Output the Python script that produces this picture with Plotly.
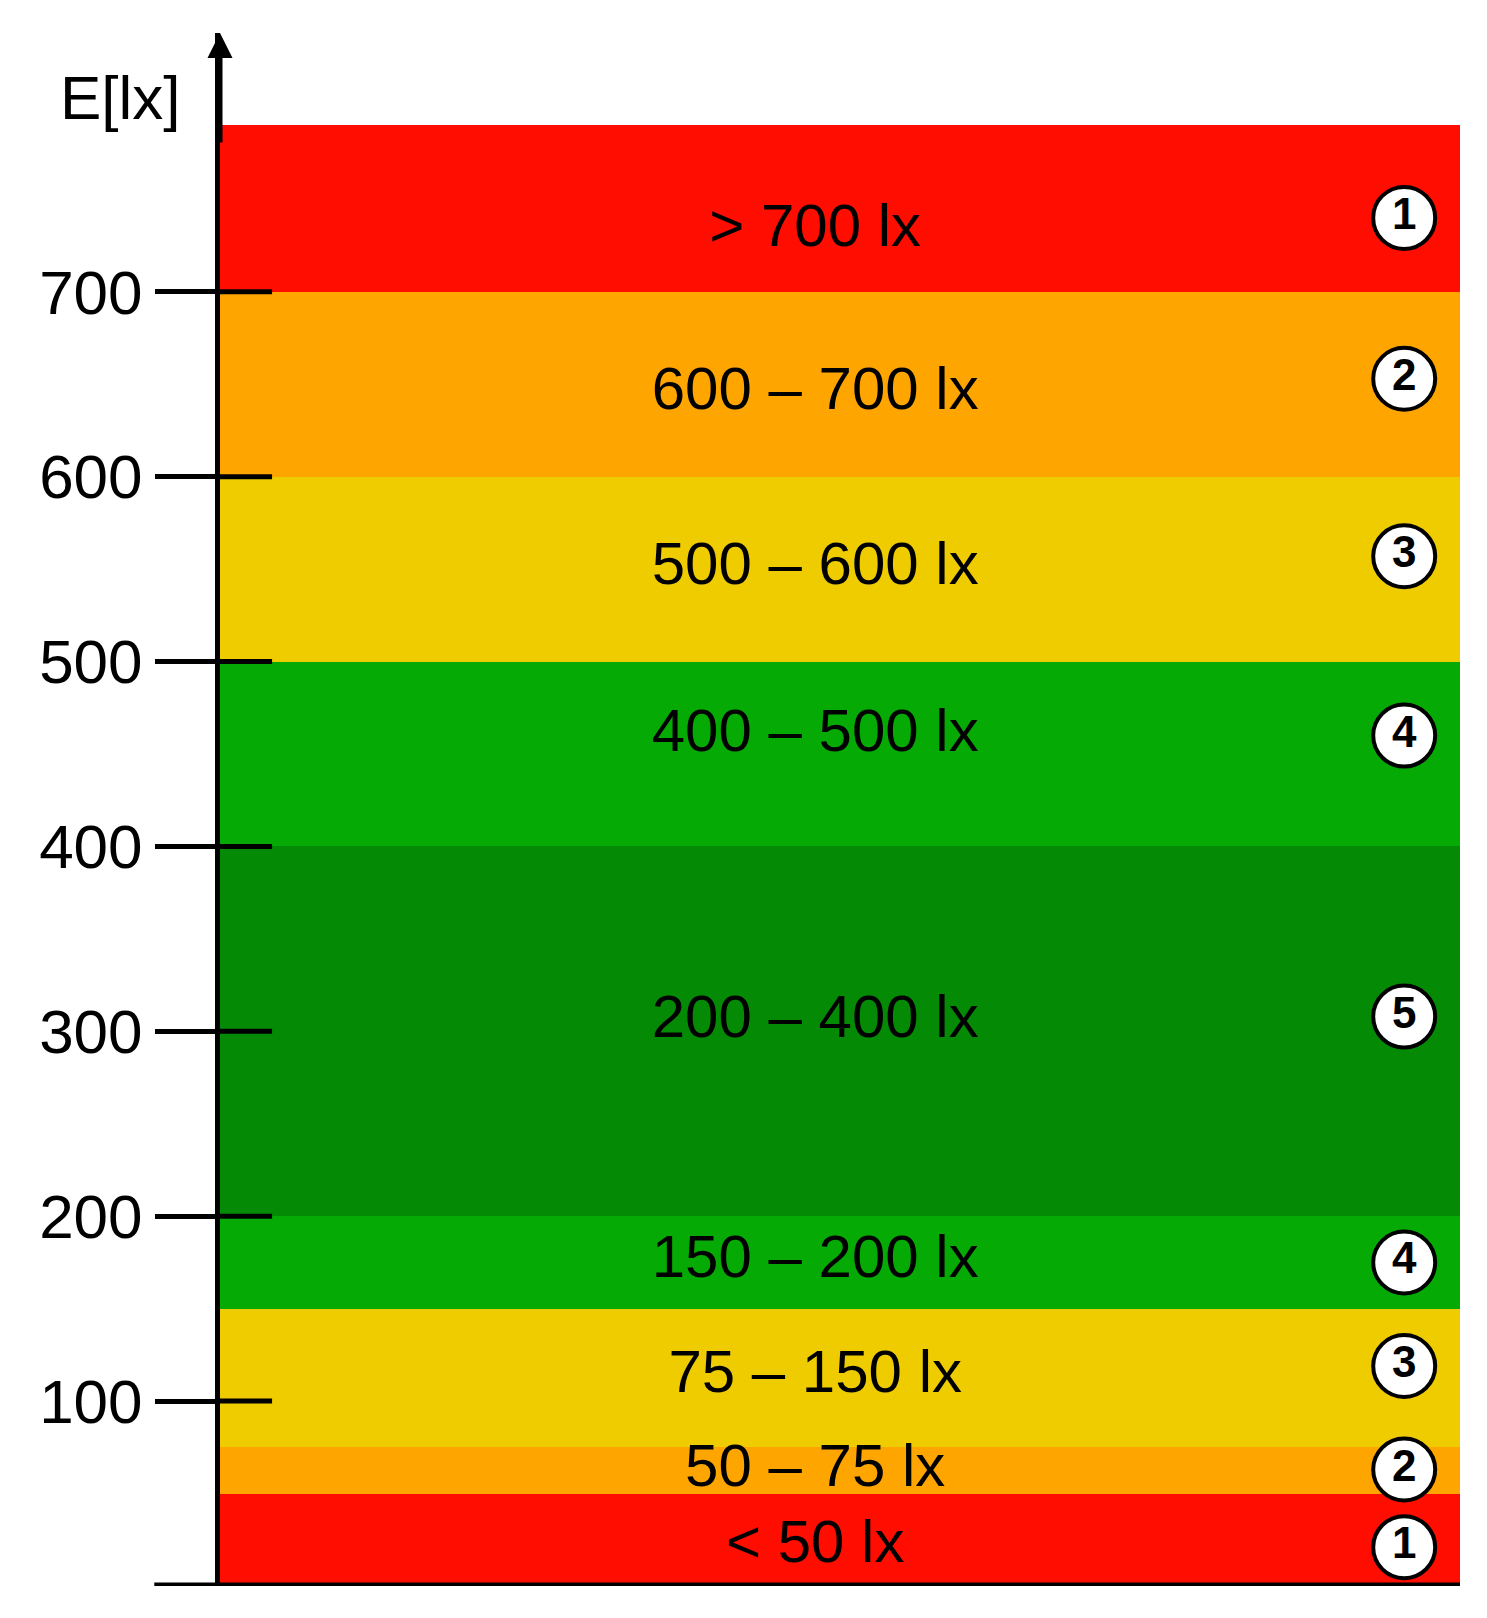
import plotly.graph_objects as go

band_low = [0, 50, 75, 150, 200, 400, 500, 600, 700]
band_high = [50, 75, 150, 200, 400, 500, 600, 700, 790]
band_colors = ["#FF0D00", "#FFA500", "#EECC00", "#05AA05", "#058A05", "#05AA05", "#EECC00", "#FFA500", "#FF0D00"]
labels = ["< 50 lx", "50 – 75 lx", "75 – 150 lx", "150 – 200 lx", "200 – 400 lx",
          "400 – 500 lx", "500 – 600 lx", "600 – 700 lx", "> 700 lx"]
label_y = [21, 62, 113, 175, 305, 460, 550, 645, 733]
classes = ["1", "2", "3", "4", "5", "4", "3", "2", "1"]
class_y = [21, 63, 119, 175, 308, 460, 557, 653, 740]
tick_vals = [100, 200, 300, 400, 500, 600, 700]

fig = go.Figure()
for lo, hi, c in zip(band_low, band_high, band_colors):
    fig.add_trace(go.Bar(x=[0.5], y=[hi - lo], base=[lo], width=[1], marker=dict(color=c, line=dict(width=0)),
                         showlegend=False, hoverinfo="skip"))

tx, ty = [], []
for v in tick_vals:
    tx += [0, 0.042, None]
    ty += [v, v, None]
fig.add_trace(go.Scatter(x=tx, y=ty, mode="lines", line=dict(color="black", width=5), showlegend=False))

fig.add_trace(go.Scatter(x=[0.48] * len(labels), y=label_y, mode="text", text=labels,
                         textfont=dict(size=60, color="black", family="Liberation Sans"), showlegend=False))
fig.add_trace(go.Scatter(x=[0.955] * len(classes), y=class_y, mode="markers+text",
                         text=["<b>" + c + "</b>" for c in classes],
                         marker=dict(size=62, color="white", line=dict(color="black", width=4)),
                         textfont=dict(size=44, color="black", family="Liberation Sans"),
                         textposition="middle center", showlegend=False))

fig.update_layout(
    width=1487, height=1618, paper_bgcolor="white", plot_bgcolor="white",
    margin=dict(l=212, r=35, t=25, b=40), barmode="overlay", bargap=0,
    xaxis=dict(range=[0, 1], visible=False),
    yaxis=dict(range=[0, 840], tickvals=tick_vals, ticks="outside", ticklen=60, tickwidth=5,
               tickcolor="black", showline=True, linecolor="black", linewidth=5, showgrid=False,
               zeroline=False, tickfont=dict(size=62, color="black", family="Liberation Sans")),
    font=dict(family="Liberation Sans"),
    shapes=[dict(type="line", xref="paper", yref="y", x0=-0.053, x1=1, y0=0, y1=0,
                 line=dict(color="black", width=7))],
    annotations=[
        dict(text="E[lx]", xref="paper", yref="y", x=-0.03, y=805, xanchor="right", yanchor="middle",
             showarrow=False, font=dict(size=62, color="black")),
        dict(x=0, y=840, ax=0, ay=780, xref="x", yref="y", axref="x", ayref="y", showarrow=True,
             arrowhead=2, arrowsize=1, arrowwidth=5, arrowcolor="black", text=""),
    ],
)
fig.write_html("out.html")
